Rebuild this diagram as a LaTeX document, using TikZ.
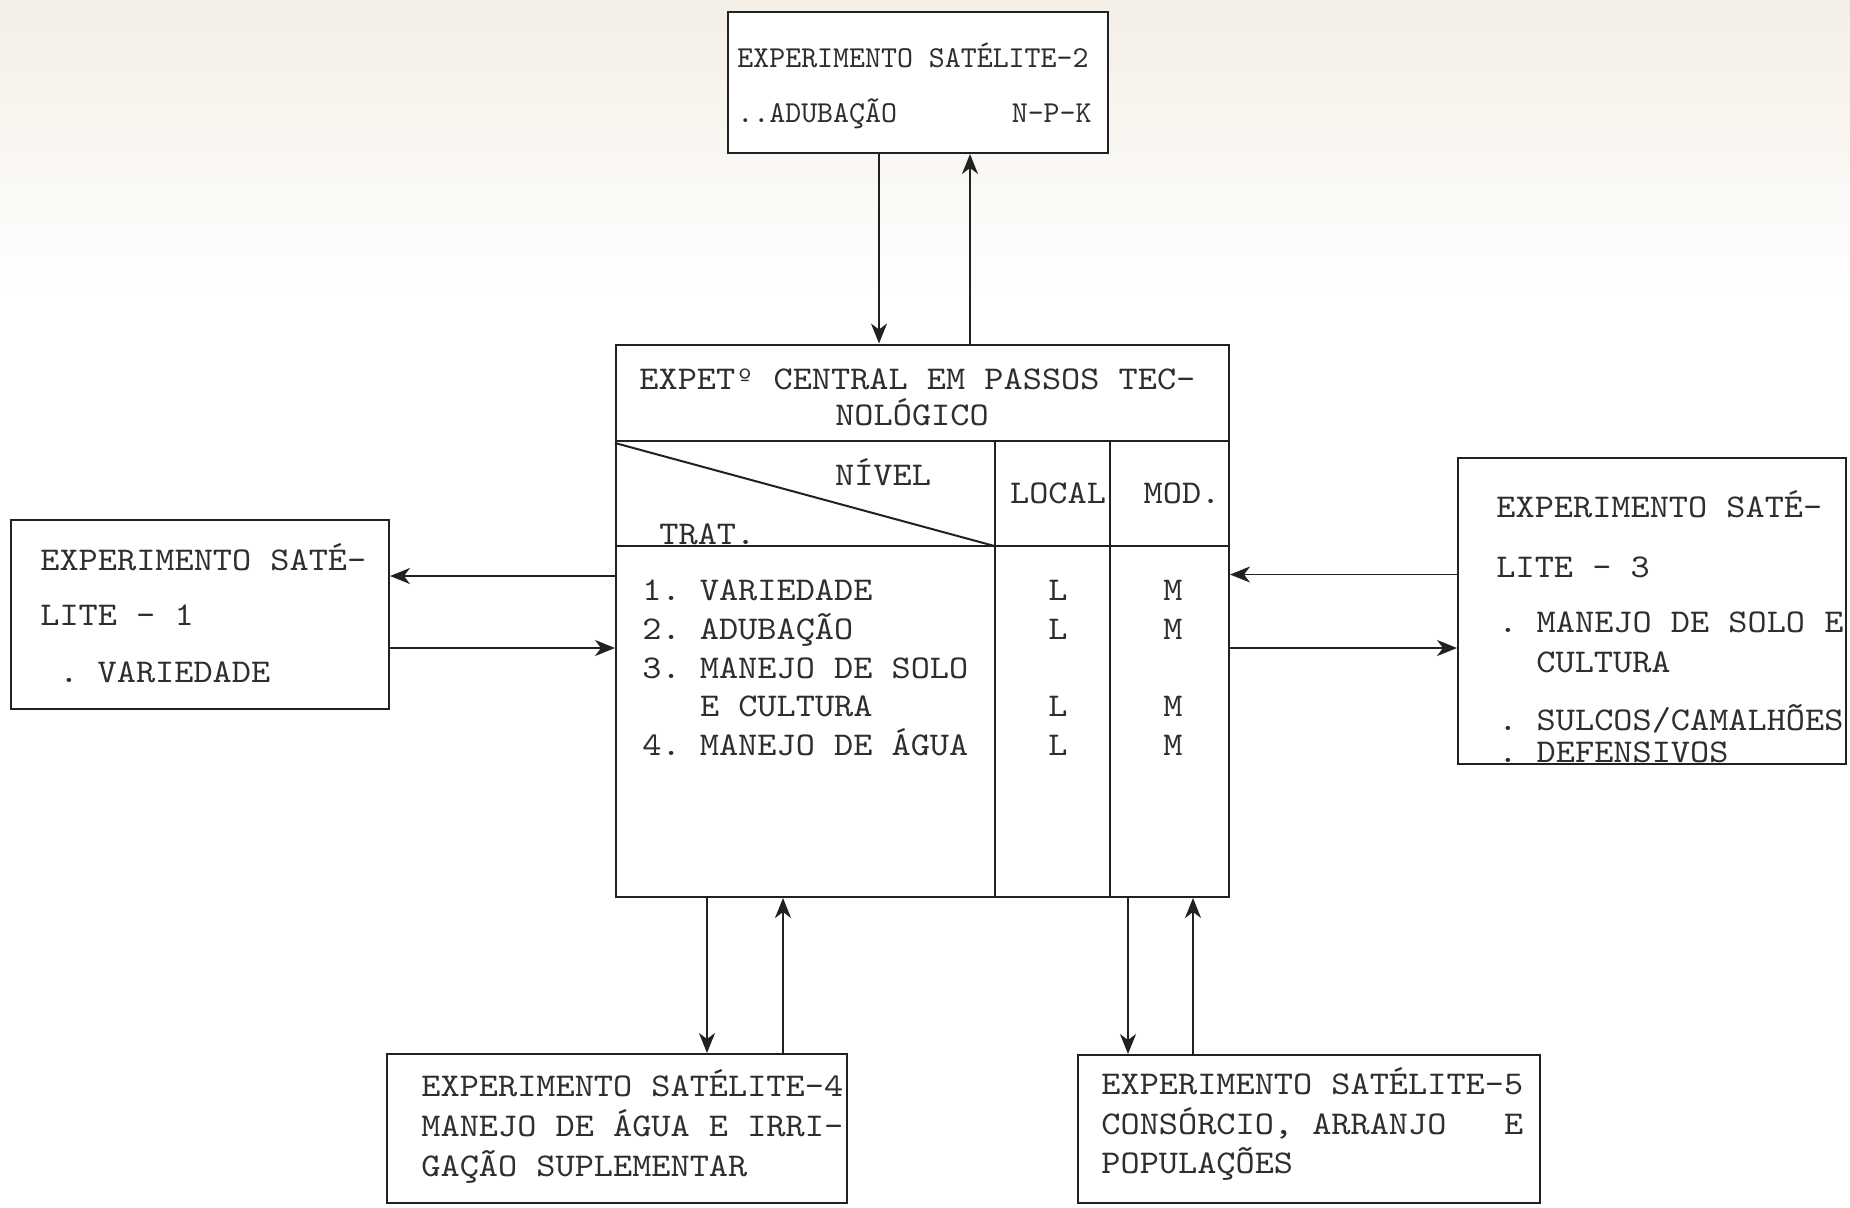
\documentclass[tikz,border=0pt]{standalone}
\usepackage{fontspec}
\newfontfamily\tw[Extension=.otf,FakeStretch=1.1]{lmmono10-regular}
\newfontfamily\twn[Extension=.otf]{lmmono10-regular}
\usetikzlibrary{arrows.meta,fit}
\definecolor{ink}{rgb}{0.13,0.13,0.13}
\definecolor{textc}{rgb}{0.18,0.18,0.18}
\definecolor{cream}{rgb}{0.955,0.935,0.9}
\begin{document}
\begin{tikzpicture}[x=0.5pt,y=-0.5pt,
  box/.style={draw=ink,line width=1pt,inner sep=0pt,fill=white},
  rule/.style={draw=ink,line width=1pt},
  arr/.style={draw=ink,line width=0.85pt,-{Stealth[length=10pt,width=8pt,inset=3pt]}},
  txt/.style={anchor=base west,inner sep=0pt,text=textc,font=\tw\fontsize{16.6pt}{19pt}\selectfont\frenchspacing},
  txtc/.style={txt,anchor=base},
  txtn/.style={anchor=base west,inner sep=0pt,text=textc,font=\twn\fontsize{15.2pt}{18pt}\selectfont\frenchspacing}]
\useasboundingbox (0,0) rectangle (1850,1207);
\fill[white] (0,0) rectangle (1850,1207);
\shade[top color=cream,bottom color=white] (0,0) rectangle (1850,300);

% boxes
\node[box,fit={(728,12) (1108,153)}] (s2) {};
\node[box,fit={(616,344.5) (1229,897)}] (cen) {};
\node[box,fit={(11,520) (389,709)}] (s1) {};
\node[box,fit={(1458,458) (1846,764)}] (s3) {};
\node[box,fit={(387,1054) (847,1203)}] (s4) {};
\node[box,fit={(1078,1055) (1540,1203)}] (s5) {};

% central table rules
\draw[rule] (cen.west |- 0,441) -- (cen.east |- 0,441);
\draw[rule] (cen.west |- 0,546) -- (cen.east |- 0,546);
\draw[rule] (994.5,441) -- (cen.south -| 994.5,0);
\draw[rule] (1110,441) -- (cen.south -| 1110,0);
\draw[rule] (cen.west |- 0,443) -- (994.5,546);

% Satellite 2 text
\node[txtn] (t2a) at (737,67) {EXPERIMENTO SATÉLITE-2};
\node[txtn] (t2b) at (737,122) {..ADUBAÇÃO};
\node[txtn,anchor=base east] (t2c) at (1092,122) {N-P-K};

% central text
\node[txt] (c1) at (639,389) {EXPETº CENTRAL EM PASSOS TEC-};
\node[txtc] (c2) at (912,425) {NOLÓGICO};
\node[txtc] (nivel) at (883,485) {NÍVEL};
\node[txt] (trat) at (659,544) {TRAT.};
\node[txtc] (local) at (1058,503) {LOCAL};
\node[txtc] (mod) at (1182,503) {MOD.};
\node[txt] (r1) at (642,600) {1. VARIEDADE};
\node[txt] (r2) at (642,639) {2. ADUBAÇÃO};
\node[txt] (r3) at (642,678) {3. MANEJO DE SOLO};
\node[txt] (r3b) at (699.6,716) {E CULTURA};
\node[txt] (r4) at (642,755) {4. MANEJO DE ÁGUA};
\node[txtc] (l1) at (1058,600) {L};
\node[txtc] (l2) at (1058,639) {L};
\node[txtc] (l3) at (1058,716) {L};
\node[txtc] (l4) at (1058,755) {L};
\node[txtc] (m1) at (1173,600) {M};
\node[txtc] (m2) at (1173,639) {M};
\node[txtc] (m3) at (1173,716) {M};
\node[txtc] (m4) at (1173,755) {M};

% Satellite 1
\node[txt] (t1a) at (40,570) {EXPERIMENTO SATÉ-};
\node[txt] (t1b) at (40,625) {LITE - 1};
\node[txt] (t1c) at (59,682) {. VARIEDADE};

% Satellite 3
\node[txt] (t3a) at (1496,517) {EXPERIMENTO SATÉ-};
\node[txt] (t3b) at (1496,577) {LITE - 3};
\node[txt] (t3c) at (1498,632) {. MANEJO DE SOLO E};
\node[txt] (t3d) at (1536,672) {CULTURA};
\node[txt] (t3e) at (1498,730) {. SULCOS/CAMALHÕES};
\node[txt] (t3f) at (1498,762) {. DEFENSIVOS};

% Satellite 4
\node[txt] (t4a) at (421,1096) {EXPERIMENTO SATÉLITE-4};
\node[txt] (t4b) at (421,1136) {MANEJO DE ÁGUA E IRRI-};
\node[txt] (t4c) at (421,1176) {GAÇÃO SUPLEMENTAR};

% Satellite 5
\node[txt] (t5a) at (1101,1094) {EXPERIMENTO SATÉLITE-5};
\node[txt] (t5b) at (1101,1134) {CONSÓRCIO, ARRANJO~~~E};
\node[txt] (t5c) at (1101,1173) {POPULAÇÕES};

% connectors
\draw[arr] (s2.south -| 879,0) -- (cen.north -| 879,0);
\draw[arr] (cen.north -| 970,0) -- (s2.south -| 970,0);
\draw[arr] (cen.west |- 0,576) -- (s1.east |- 0,576);
\draw[arr] (s1.east |- 0,648) -- (cen.west |- 0,648);
\draw[arr] (s3.west |- 0,574.5) -- (cen.east |- 0,574.5);
\draw[arr] (cen.east |- 0,648) -- (s3.west |- 0,648);
\draw[arr] (cen.south -| 707,0) -- (s4.north -| 707,0);
\draw[arr] (s4.north -| 783,0) -- (cen.south -| 783,0);
\draw[arr] (cen.south -| 1128,0) -- (s5.north -| 1128,0);
\draw[arr] (s5.north -| 1193,0) -- (cen.south -| 1193,0);
\end{tikzpicture}
\end{document}
